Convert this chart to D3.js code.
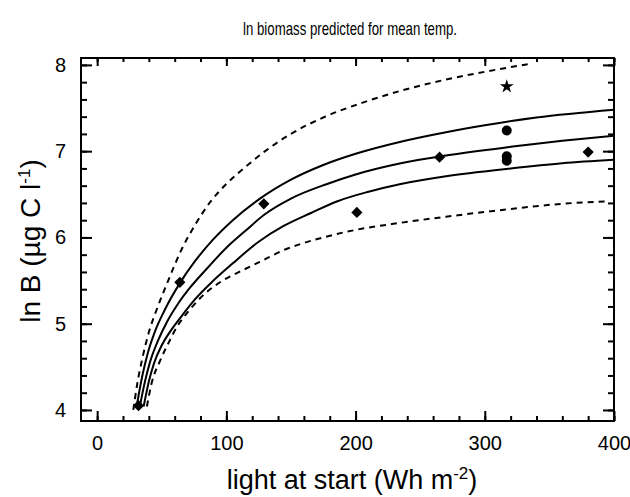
<!DOCTYPE html>
<html>
<head>
<meta charset="utf-8">
<script src="https://cdn.jsdelivr.net/npm/d3@7"></script>
<style>
  body { margin: 0; background: #fff; }
  svg { font-family: "Liberation Sans", Arial, sans-serif; }
</style>
</head>
<body>
<svg id="chart" width="630" height="497"></svg>
<script>
const plotLeft = 81, plotRight = 614, plotTop = 58, plotBottom = 421;

// curves: [light, ln B]
const upperDashed = [[28,4.0],[31,4.3],[35,4.6],[40,4.9],[47,5.2],[55,5.5],[65,5.85],[76,6.15],[88,6.42],[100,6.62],[115,6.82],[130,7.0],[150,7.2],[175,7.39],[205,7.56],[235,7.7],[270,7.83],[300,7.92],[334,8.01]];
const upperSolid = [[31,4.08],[35,4.4],[39,4.65],[45,4.92],[52,5.15],[64,5.47],[76,5.73],[90,5.98],[105,6.2],[126,6.45],[150,6.67],[175,6.84],[200,6.97],[235,7.11],[270,7.22],[300,7.3],[340,7.39],[400,7.48]];
const midSolid = [[33,4.04],[37,4.33],[41,4.56],[47,4.8],[54,5.02],[63,5.24],[72,5.42],[85,5.64],[100,5.88],[115,6.08],[129,6.26],[150,6.45],[178,6.62],[200,6.73],[235,6.86],[270,6.95],[320,7.05],[360,7.12],[400,7.18]];
const lowerSolid = [[36,4.04],[40,4.33],[44,4.54],[50,4.75],[57,4.92],[66,5.1],[75,5.27],[90,5.5],[105,5.7],[125,5.95],[144,6.13],[165,6.28],[186,6.42],[210,6.53],[235,6.62],[270,6.71],[320,6.8],[360,6.86],[400,6.9]];
const lowerDashed = [[38.5,4.04],[42,4.3],[49,4.58],[56,4.8],[62,4.97],[71,5.15],[80,5.3],[95,5.48],[110,5.6],[125,5.71],[144,5.85],[175,6.0],[201,6.09],[235,6.17],[270,6.24],[320,6.33],[360,6.39],[396,6.42]];

// observations
const obsLight = [32, 64, 129, 201, 265, 317, 317, 317, 317, 380];
const obsLnB = [4.05, 5.48, 6.39, 6.29, 6.93, 7.75, 7.24, 6.94, 6.89, 6.99];
const obsShape = ["diamond", "diamond", "diamond", "diamond", "diamond", "star", "circle", "circle", "circle", "diamond"];

const xTicks = [0, 100, 200, 300, 400];
const yTicks = [4, 5, 6, 7, 8];

const svg = d3.select("#chart");

const x = d3.scaleLinear().domain([-12.5, 400]).range([plotLeft, plotRight]);
const y = d3.scaleLinear().domain([3.872, 8.08]).range([plotBottom, plotTop]);

const xMinor = d3.range(0, 401, 20);
const yMinor = d3.range(4, 8.01, 0.2);

function styleAxis(g) {
  g.select(".domain").remove();
  g.selectAll("line").attr("stroke", "#000").attr("stroke-width", 2);
  g.selectAll("text").attr("fill", "#000").attr("font-size", 20);
}

// minor ticks
svg.append("g").attr("transform", `translate(0,${plotBottom})`)
  .call(d3.axisBottom(x).tickValues(xMinor).tickSize(-5).tickFormat("")).call(styleAxis);
svg.append("g").attr("transform", `translate(0,${plotTop})`)
  .call(d3.axisTop(x).tickValues(xMinor).tickSize(-4).tickFormat("")).call(styleAxis);
svg.append("g").attr("transform", `translate(${plotLeft},0)`)
  .call(d3.axisLeft(y).tickValues(yMinor).tickSize(-6).tickFormat("")).call(styleAxis);
svg.append("g").attr("transform", `translate(${plotRight},0)`)
  .call(d3.axisRight(y).tickValues(yMinor).tickSize(-6).tickFormat("")).call(styleAxis);

// major ticks
svg.append("g").attr("transform", `translate(0,${plotBottom})`)
  .call(d3.axisBottom(x).tickValues(xTicks).tickSize(-10).tickPadding(15).tickFormat(d3.format("d")))
  .call(styleAxis);
svg.append("g").attr("transform", `translate(0,${plotTop})`)
  .call(d3.axisTop(x).tickValues(xTicks).tickSize(-8).tickFormat("")).call(styleAxis);
svg.append("g").attr("transform", `translate(${plotLeft},0)`)
  .call(d3.axisLeft(y).tickValues(yTicks).tickSize(-11).tickPadding(15).tickFormat(d3.format("d")))
  .call(styleAxis);
svg.append("g").attr("transform", `translate(${plotRight},0)`)
  .call(d3.axisRight(y).tickValues(yTicks).tickSize(-11).tickFormat("")).call(styleAxis);

// frame
svg.append("rect")
  .attr("x", plotLeft).attr("y", plotTop)
  .attr("width", plotRight - plotLeft).attr("height", plotBottom - plotTop)
  .attr("fill", "none").attr("stroke", "#000").attr("stroke-width", 2);

const line = d3.line()
  .x(d => x(d[0]))
  .y(d => y(d[1]))
  .curve(d3.curveMonotoneX);

const curves = [
  { pts: upperDashed, dash: "6,5" },
  { pts: upperSolid, dash: null },
  { pts: midSolid, dash: null },
  { pts: lowerSolid, dash: null },
  { pts: lowerDashed, dash: "6,5" }
];

curves.forEach(c => {
  svg.append("path")
    .attr("d", line(c.pts))
    .attr("fill", "none")
    .attr("stroke", "#000")
    .attr("stroke-width", 2)
    .attr("stroke-dasharray", c.dash);
});

const symbols = { diamond: d3.symbolDiamond2, circle: d3.symbolCircle, star: d3.symbolStar };
const symbolSize = { diamond: 80, circle: 78, star: 60 };
obsLight.forEach((v, i) => {
  svg.append("path")
    .attr("d", d3.symbol().type(symbols[obsShape[i]]).size(symbolSize[obsShape[i]])())
    .attr("transform", `translate(${x(v)},${y(obsLnB[i])})`)
    .attr("fill", "#000");
});

// titles
svg.append("text")
  .attr("x", 350).attr("y", 35)
  .attr("text-anchor", "middle").attr("font-size", 19)
  .attr("textLength", 214).attr("lengthAdjust", "spacingAndGlyphs")
  .text("ln biomass predicted for mean temp.");

const xl = svg.append("text")
  .attr("x", 352).attr("y", 489)
  .attr("text-anchor", "middle").attr("font-size", 27);
xl.append("tspan").text("light at start (Wh m");
xl.append("tspan").attr("dy", -10).attr("font-size", 17).text("-2");
xl.append("tspan").attr("dy", 10).text(")");

const yl = svg.append("text")
  .attr("transform", `translate(40,241) rotate(-90)`)
  .attr("text-anchor", "middle").attr("font-size", 28);
yl.append("tspan").text("ln B (µg C l");
yl.append("tspan").attr("dy", -10).attr("font-size", 17).text("-1");
yl.append("tspan").attr("dy", 10).text(")");
</script>
</body>
</html>
